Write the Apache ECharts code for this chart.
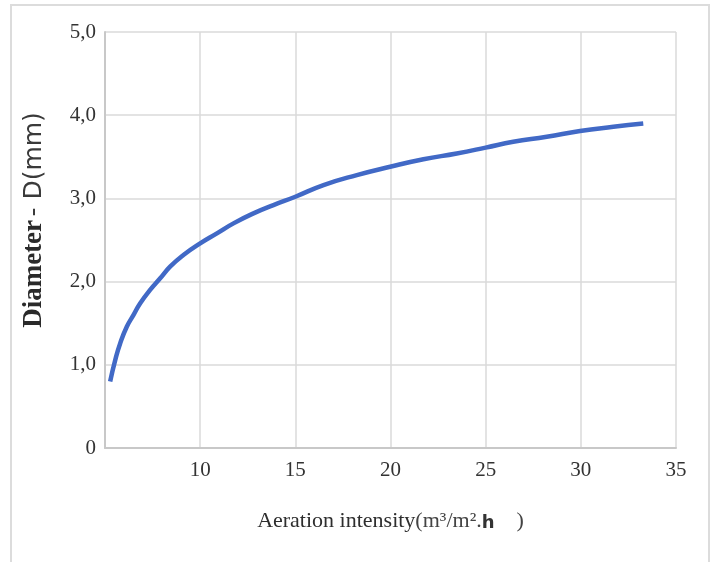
<!DOCTYPE html>
<html>
<head>
<meta charset="utf-8">
<script src="https://cdn.jsdelivr.net/npm/echarts@6/dist/echarts.min.js"></script>
<style>
  html, body { margin: 0; padding: 0; background: #fff; }
  #chart { width: 714px; height: 562px; }
</style>
</head>
<body>
<div id="chart"></div>
<script>
// aeration intensity (m3/m2.h) vs bubble diameter (mm)
const intensity = [5.27, 5.54, 5.8, 6.15, 6.5, 6.85, 7.37, 7.9, 8.42, 9.12, 10.0, 10.88, 11.75, 12.8, 13.85, 15.0,
  16.48, 18.23, 19.98, 21.73, 23.48, 25.0, 26.45, 28.21, 29.96, 31.71, 33.28]
const diameter = [0.8, 1.06, 1.26, 1.46, 1.6, 1.74, 1.9, 2.04, 2.18, 2.32, 2.46, 2.58, 2.7, 2.82, 2.92, 3.02,
  3.16, 3.28, 3.38, 3.47, 3.54, 3.61, 3.68, 3.74, 3.81, 3.86, 3.9]
const xTicks = [5, 35, 5] // min, max, step
const yTicks = [0, 5, 1]

const chart = echarts.init(document.getElementById('chart'))

const labelColor = '#333'
const serif = '"Liberation Serif", "DejaVu Serif", serif'

chart.setOption({
  animation: false,
  graphic: [
    {
      type: 'rect',
      shape: { x: 11, y: 5, width: 698, height: 570 },
      style: { fill: 'none', stroke: '#dcdcdc', lineWidth: 2 },
      silent: true
    }
  ],
  grid: { left: 105, top: 32, right: 38, bottom: 114 },
  xAxis: {
    type: 'value',
    min: xTicks[0],
    max: xTicks[1],
    interval: xTicks[2],
    name: '{a|Aeration intensity}{u|(m³/m².}{h|h}{u|    )}',
    nameLocation: 'middle',
    nameGap: 58,
    nameTextStyle: {
      rich: {
        a: { fontFamily: serif, fontSize: 22, color: '#2e2e2e', lineHeight: 26, verticalAlign: 'bottom' },
        u: { fontFamily: serif, fontSize: 22, color: '#444', lineHeight: 26, verticalAlign: 'bottom' },
        h: { fontFamily: '"DejaVu Sans", sans-serif', fontWeight: 'bold', fontSize: 18, color: '#333',
          lineHeight: 24, verticalAlign: 'bottom' }
      }
    },
    axisLine: { show: true, lineStyle: { color: '#c8c8c8', width: 2 } },
    axisTick: { show: false },
    axisLabel: {
      showMinLabel: false,
      margin: 12,
      fontFamily: serif,
      fontSize: 21,
      color: labelColor
    },
    splitLine: { show: true, lineStyle: { color: '#dadada', width: 1.5 } }
  },
  yAxis: {
    type: 'value',
    min: yTicks[0],
    max: yTicks[1],
    interval: yTicks[2],
    name: '{b|Diameter} {s|- D(mm)}',
    nameLocation: 'middle',
    nameRotate: 90,
    nameGap: 57,
    nameTextStyle: {
      rich: {
        b: { fontFamily: serif, fontWeight: 'bold', fontSize: 27, color: '#2a2a2a', padding: [0, 0, 0, 40] },
        s: { fontFamily: '"DejaVu Sans", sans-serif', fontSize: 25, color: '#3a3a3a' }
      }
    },
    axisLine: { show: true, lineStyle: { color: '#c8c8c8', width: 2 } },
    axisTick: { show: false },
    axisLabel: {
      margin: 9,
      fontFamily: serif,
      fontSize: 21,
      color: labelColor,
      formatter: (v) => (v === 0 ? '0' : v.toFixed(1).replace('.', ','))
    },
    splitLine: { show: true, lineStyle: { color: '#dadada', width: 1.5 } }
  },
  series: [
    {
      type: 'line',
      data: intensity.map((x, i) => [x, diameter[i]]),
      smooth: true,
      showSymbol: false,
      lineStyle: { color: '#4169c6', width: 4.5 }
    }
  ]
})
</script>
</body>
</html>
